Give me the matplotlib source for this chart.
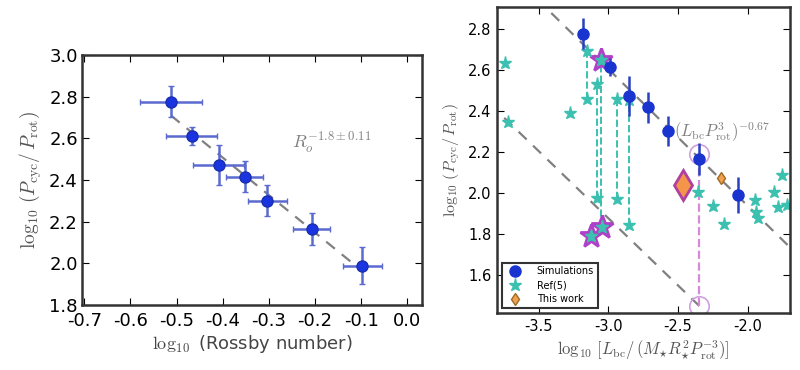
import numpy as np
import matplotlib.pyplot as plt

plt.rcParams['font.family'] = ['DejaVu Sans']
plt.rcParams['mathtext.fontset'] = 'cm'

# Left panel: simulations vs Rossby number
ro = [-0.512, -0.467, -0.409, -0.352, -0.303, -0.207, -0.097]
ro_err = [0.067, 0.055, 0.055, 0.040, 0.043, 0.040, 0.043]
pcyc = [2.776, 2.611, 2.472, 2.416, 2.300, 2.165, 1.989]
pcyc_err = [0.074, 0.044, 0.096, 0.074, 0.074, 0.078, 0.088]

# Right panel: simulations vs L_bc / (M R^2 P^-3)
lbc_sim = [-3.183, -2.988, -2.852, -2.719, -2.571, -2.350, -2.071]

# Ref(5) stars
ref_x = [-3.738, -3.721, -3.274, -3.150, -3.150, -3.083, -3.083, -3.055,
         -2.940, -2.940, -2.850, -2.850, -3.126, -3.048, -2.355, -2.250,
         -2.174, -1.946, -1.939, -1.924, -1.810, -1.752, -1.781, -1.716]
ref_y = [2.633, 2.346, 2.390, 2.691, 2.455, 2.528, 1.973, 2.649,
         2.455, 1.970, 2.450, 1.843, 1.791, 1.835, 2.005, 1.936,
         1.848, 1.965, 1.907, 1.877, 2.004, 2.086, 1.930, 1.940]

# pairs joined by dashed lines (x, y_top, y_bottom)
pair_x = [-3.150, -3.083, -3.055, -2.940, -2.850]
pair_top = [2.691, 2.528, 2.649, 2.455, 2.450]
pair_bot = [2.455, 1.973, 1.835, 1.970, 1.843]

# highlighted stars
hl_x = [-3.055, -3.126, -3.048]
hl_y = [2.649, 1.791, 1.835]

# this work
tw_x = [-2.19]
tw_y = [2.07]
big_dia_x = [-2.464]
big_dia_y = [2.038]

# open circles
circ_x = [-2.35, -2.35]
circ_y = [2.19, 1.449]

fig = plt.figure(figsize=(8, 3.7), dpi=100)

# ---- left panel
ax1 = fig.add_axes([0.1025, 0.1757, 0.425, 0.6757])
xx = np.array([-0.512, -0.118])
ax1.plot(xx, 2.0 - 1.8 * (xx + 0.118), '--', color='gray', lw=1.6, dashes=(5, 4))
ax1.errorbar(ro, pcyc, xerr=ro_err, yerr=pcyc_err, fmt='o', color='#1a34e0',
             ecolor='#5a6ad0', elinewidth=1.8, capsize=2, ms=8, mec='#1a2fb0')
ax1.text(-0.25, 2.55, r'$R_o^{-1.8\pm0.11}$', color='gray', fontsize=13)
ax1.set_xlim(-0.705, 0.032)
ax1.set_ylim(1.8, 3.0)
ax1.set_xticks(np.arange(-0.7, 0.01, 0.1))
ax1.set_xticklabels(['-0.7', '-0.6', '-0.5', '-0.4', '-0.3', '-0.2', '-0.1', '0.0'])
ax1.set_yticks(np.arange(1.8, 3.01, 0.2))
ax1.set_yticklabels(['1.8', '2.0', '2.2', '2.4', '2.6', '2.8', '3.0'])
ax1.tick_params(direction='in', top=True, right=True, labelsize=13, length=5)
ax1.tick_params(axis='x', pad=5)
ax1.tick_params(axis='y', pad=3)
ax1.set_xlabel(r'$\log_{10}$ (Rossby number)', fontsize=13, color='#444444', labelpad=2)
ax1.set_ylabel(r'$\log_{10}\,(P_{\rm cyc}/\,P_{\rm rot})$', fontsize=14, color='#555555')
for s in ax1.spines.values():
    s.set_linewidth(1.8)
    s.set_color('#333333')

# ---- right panel
ax2 = fig.add_axes([0.621, 0.154, 0.366, 0.827])
xl = np.array([-3.85, -1.65])
ax2.plot(xl, 2.865 - 0.667 * (xl + 3.393), '--', color='gray', lw=1.6, dashes=(5, 4))
ax2.plot(xl, 1.45 - 0.655 * (xl + 2.35), '--', color='gray', lw=1.6, dashes=(5, 4))
ax2.vlines(pair_x, pair_bot, pair_top, colors='#3cc0b0', linestyles='--', lw=1.4)
ax2.vlines([-2.35], [1.449], [2.163], colors='#d58ad8', linestyles='--', lw=1.6)
ax2.plot(hl_x, hl_y, '*', ms=17, mfc='#3cc0b0', mec='#b040c8', mew=2.0, ls='none')
ax2.plot(ref_x, ref_y, '*', ms=9.5, color='#3cc0b0', ls='none', label='Ref(5)')
ax2.plot(big_dia_x, big_dia_y, 'd', ms=15, mfc='#f4954a', mec='#b040a0', mew=2, ls='none')
ax2.plot(tw_x, tw_y, 'd', ms=6, mfc='#f0a050', mec='#a06a20', ls='none', label='This work')
ax2.plot(circ_x, circ_y, 'o', ms=14, mfc='none', mec='#d0a0e0', mew=1.2, ls='none')
ax2.errorbar(lbc_sim, pcyc, yerr=pcyc_err, fmt='o', color='#1a34d0', ecolor='#2a40c0',
             elinewidth=1.8, ms=8, label='Simulations')
ax2.text(-2.53, 2.27, r'$(L_{\rm bc}P_{\rm rot}^3)^{-0.67}$', color='gray', fontsize=12)
ax2.set_xlim(-3.80, -1.70)
ax2.set_ylim(1.414, 2.905)
ax2.set_xticks([-3.5, -3.0, -2.5, -2.0])
ax2.set_xticklabels(['-3.5', '-3.0', '-2.5', '-2.0'])
ax2.set_yticks([1.6, 1.8, 2.0, 2.2, 2.4, 2.6, 2.8])
ax2.tick_params(direction='in', top=True, right=True, labelsize=10.5, length=5, pad=4)
ax2.set_xlabel(r'$\log_{10}\,[L_{\rm bc}/\,(M_{\star}R_{\star}^2P_{\rm rot}^{-3})]$',
               fontsize=12, color='#555555', labelpad=3)
ax2.set_ylabel(r'$\log_{10}\,(P_{\rm cyc}/\,P_{\rm rot})$', fontsize=11.5, color='#555555')
for s in ax2.spines.values():
    s.set_linewidth(1.8)
    s.set_color('#333333')

h, l = ax2.get_legend_handles_labels()
order = [l.index('Simulations'), l.index('Ref(5)'), l.index('This work')]
leg = ax2.legend([h[i] for i in order], [l[i] for i in order], loc='lower left',
                 fontsize=7, fancybox=False, edgecolor='#333333', framealpha=1,
                 handletextpad=1.2, borderpad=0.4, labelspacing=0.4, numpoints=1)
leg.get_frame().set_linewidth(1.5)

fig.savefig('out.png', dpi=100)
